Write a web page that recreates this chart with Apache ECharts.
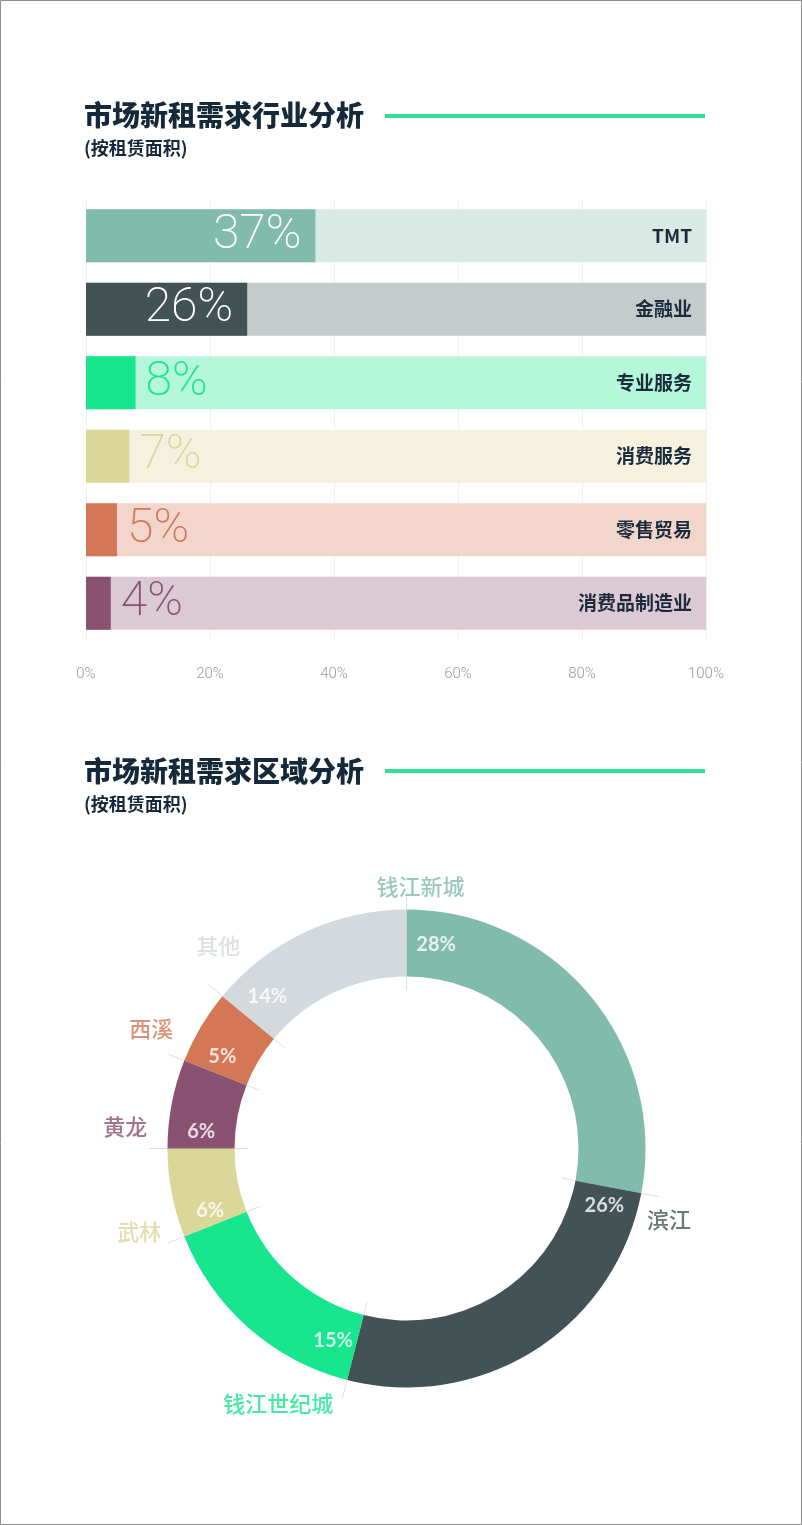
<!DOCTYPE html>
<html>
<head>
<meta charset="utf-8">
<script src="https://cdn.jsdelivr.net/npm/echarts@6/dist/echarts.min.js"></script>
<style>
  html, body { margin: 0; padding: 0; background: #fff; }
  #chart { width: 802px; height: 1525px; }
</style>
</head>
<body>
<div id="chart"></div>
<script>
// ---------- data ----------
const barCategories = ['TMT', '金融业', '专业服务', '消费服务', '零售贸易', '消费品制造业'];
const barValues = [37, 26, 8, 7, 5, 4];
const barColors = ['#80bbab', '#435254', '#17e68f', '#dbd799', '#d37757', '#8a5272'];
const barTrackColors = ['#d9eae5', '#c5cbca', '#b4f7d9', '#f4f2de', '#f2d6cc', '#dbc9d4'];
const xTickStep = 20;

const regionNames = ['钱江新城', '滨江', '钱江世纪城', '武林', '黄龙', '西溪', '其他'];
const regionValues = [28, 26, 15, 6, 6, 5, 14];
const regionColors = ['#80bbab', '#435254', '#17e68f', '#dbd799', '#8a5272', '#d37757', '#d4d9dd'];

const title1 = '市场新租需求行业分析';
const title2 = '市场新租需求区域分析';
const subTitle = '(按租赁面积)';

// ---------- label layout (style only) ----------
const pctLabelShift = [2.3, 1.5, 1.8, 1.1, 1.3, 1.4, 2.2];
const pctLabelRadius = 206;
const nameLabelLayout = [[262, 0.85], [272, 1.2], [286, 3.4], [280, 1.2], [282, 1.25], [282, 1.0], [277, 2.1]];

const FONT = '"Noto Sans CJK SC", "Noto Sans", sans-serif';
const NAVY = '#15293b';
const pieCenter = [406.5, 1148.5];

// cumulative start of each slice
const starts = [];
regionValues.reduce((acc, v, i) => { starts[i] = acc; return acc + v; }, 0);
const total = regionValues.reduce((a, b) => a + b, 0);

const chart = echarts.init(document.getElementById('chart'), null, { renderer: 'canvas' });

const boundarySeries = starts.map(s => ({
  type: 'line', coordinateSystem: 'polar', silent: true, symbol: 'none', z: 1,
  lineStyle: { color: '#dcdfe2', width: 1 },
  data: [[158, s], [257, s]], animation: false
}));

const titleStyle = { fontSize: 28, fontWeight: 900, color: NAVY, fontFamily: FONT };
const subStyle = { fontSize: 18, fontWeight: 'bold', color: NAVY, fontFamily: FONT };

const option = {
  animation: false,
  textStyle: { fontFamily: FONT },
  title: [
    { text: title1, subtext: subTitle, left: 79, top: 96, itemGap: 10,
      textStyle: titleStyle, subtextStyle: subStyle },
    { text: title2, subtext: subTitle, left: 79, top: 752, itemGap: 10,
      textStyle: titleStyle, subtextStyle: subStyle }
  ],
  graphic: [
    { type: 'rect', silent: true, shape: { x: 0.5, y: 0.5, width: 801, height: 1524 },
      style: { fill: 'none', stroke: '#8c8c8c', lineWidth: 1 } },
    { type: 'line', silent: true, shape: { x1: 385, y1: 116, x2: 705, y2: 116 },
      style: { stroke: '#2fe095', lineWidth: 4 } },
    { type: 'line', silent: true, shape: { x1: 385, y1: 771, x2: 705, y2: 771 },
      style: { stroke: '#2fe095', lineWidth: 4 } }
  ],
  grid: { left: 86, right: 96, top: 199, height: 441, containLabel: false },
  xAxis: {
    type: 'value', min: 0, max: 100, interval: xTickStep,
    axisLine: { show: false }, axisTick: { show: false },
    axisLabel: { formatter: '{value}%', color: '#9a9a9a', fontSize: 15, margin: 27,
      fontFamily: 'Roboto, sans-serif', fontWeight: 300 },
    splitLine: { lineStyle: { color: '#f1f1f1', width: 1 } }
  },
  yAxis: { type: 'category', data: barCategories, inverse: true, show: false },
  polar: { center: pieCenter, radius: 300 },
  angleAxis: { type: 'value', min: 0, max: total, startAngle: 90, show: false },
  radiusAxis: { type: 'value', min: 0, max: 300, show: false },
  series: [
    {
      type: 'bar', barWidth: 53, silent: true, z: 2,
      data: barCategories.map((c, i) => ({ value: 100, itemStyle: { color: barTrackColors[i] } })),
      label: { show: true, position: 'insideRight', distance: 14, formatter: '{b}',
        color: '#1b2b3b', fontSize: 19, fontWeight: 'bold', fontFamily: FONT }
    },
    {
      type: 'bar', barWidth: 53, barGap: '-100%', silent: true, z: 3,
      data: barValues.map((v, i) => ({
        value: v,
        itemStyle: { color: barColors[i] },
        label: i < 2
          ? { position: 'insideRight', distance: 14, color: '#ffffff' }
          : { position: 'right', distance: 10, color: barColors[i] }
      })),
      label: { show: true, formatter: '{c}%', fontSize: 48, fontWeight: 200,
        fontFamily: 'Roboto, sans-serif' }
    },
    ...boundarySeries,
    {
      type: 'pie', center: pieCenter, radius: [172, 239], startAngle: 90, clockwise: true,
      silent: true, z: 2, label: { show: false }, labelLine: { show: false },
      itemStyle: { borderWidth: 0 },
      data: regionNames.map((n, i) => ({ name: n, value: regionValues[i], itemStyle: { color: regionColors[i] } }))
    },
    {
      type: 'scatter', coordinateSystem: 'polar', symbolSize: 0, silent: true, z: 5,
      data: regionValues.map((v, i) => ({ value: [pctLabelRadius, starts[i] + pctLabelShift[i]] })),
      label: { show: true, position: 'inside',
        formatter: p => regionValues[p.dataIndex] + '%',
        color: '#ffffff', fontSize: 20, fontWeight: 'bold', fontFamily: 'Lato, sans-serif' }
    },
    {
      type: 'scatter', coordinateSystem: 'polar', symbolSize: 0, silent: true, z: 5,
      data: regionNames.map((n, i) => ({
        value: [nameLabelLayout[i][0], starts[i] + nameLabelLayout[i][1]],
        label: { color: regionColors[i] }
      })),
      label: { show: true, position: 'inside',
        formatter: p => regionNames[p.dataIndex],
        fontSize: 22, fontWeight: 500, fontFamily: FONT }
    }
  ]
};
chart.setOption(option);
</script>
</body>
</html>
